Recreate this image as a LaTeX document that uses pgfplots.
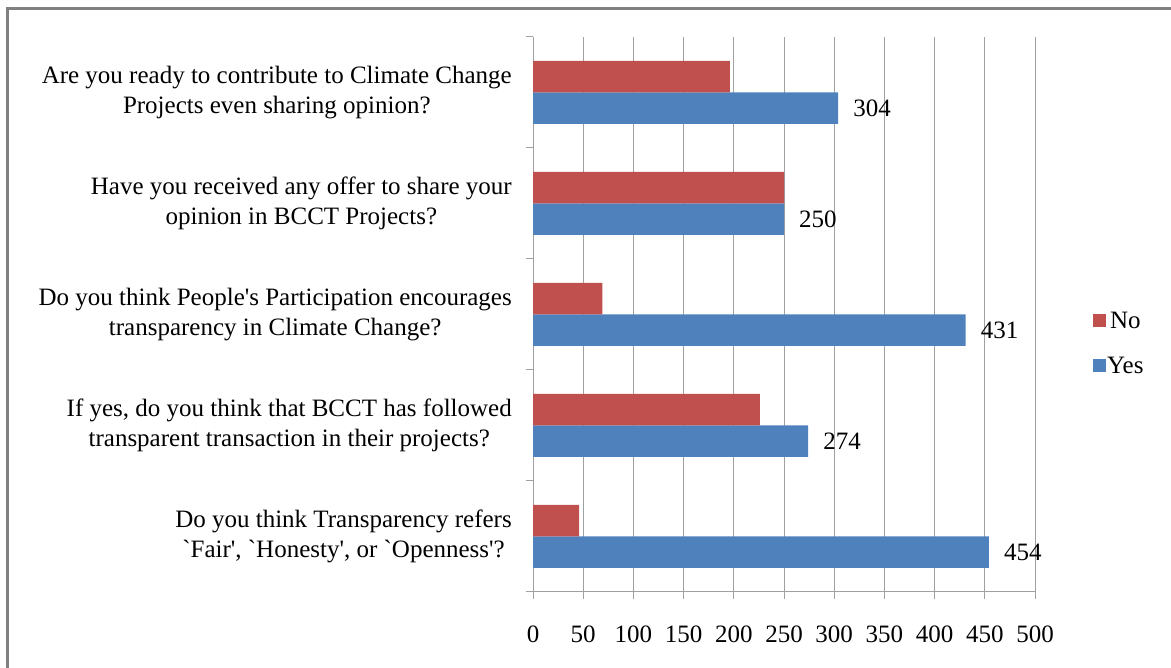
\documentclass[border=0pt]{standalone}
\usepackage{pgfplots}
\pgfplotsset{compat=1.18}
\usepackage{fontspec}
\setmainfont{Liberation Serif}
\definecolor{barred}{RGB}{192,80,77}
\definecolor{barblue}{RGB}{79,129,189}
\definecolor{gridgray}{RGB}{160,160,160}
\definecolor{framegray}{RGB}{128,128,128}
\newcommand{\lbl}{\fontsize{25bp}{30bp}\selectfont}
\begin{document}
\begin{tikzpicture}
\useasboundingbox (0,0) rectangle (1171bp,668bp);
\draw[framegray, line width=2.2bp] (7.5bp,0) -- (7.5bp,659.5bp) -- (1171bp,659.5bp);
\begin{axis}[
  at={(533bp,76bp)}, anchor=south west,
  scale only axis, width=502bp, height=555bp,
  xbar, bar width=31.5bp,
  xmin=0, xmax=500, ymin=-0.5, ymax=4.5,
  axis x line*=bottom, axis y line*=left,
  axis line style={gridgray, line width=1bp},
  xtick={0,50,...,500},
  ytick={-0.5,0.5,1.5,2.5,3.5,4.5},
  yticklabels={},
  extra y ticks={0,1,2,3,4},
  extra y tick labels={
    {Do you think Transparency refers\\\textasciigrave Fair\textquotesingle, \textasciigrave Honesty\textquotesingle, or \textasciigrave Openness\textquotesingle?},
    {If yes, do you think that BCCT has followed\\transparent transaction in their projects?},
    {Do you think People\textquotesingle s Participation encourages\\transparency in Climate Change?},
    {Have you received any offer to share your\\opinion in BCCT Projects?},
    {Are you ready to contribute to Climate Change\\Projects even sharing opinion?}},
  extra y tick style={major tick length=0pt, grid=none},
  tick align=outside,
  major tick length=7bp,
  tick style={gridgray, line width=1bp},
  xmajorgrids,
  grid style={gridgray, line width=1bp},
  /pgf/number format/assume math mode=true,
  xticklabel style={font=\lbl, inner sep=0pt, yshift=-27bp},
  yticklabel style={font=\lbl, align=center, inner sep=0pt, anchor=east, xshift=-21bp},
  legend style={at={(rel axis cs:1.1155,0.445)}, anchor=west, draw=none, fill=none,
    inner sep=0pt, font=\lbl, row sep=25bp,
    nodes={inner sep=0pt, text height=16bp, text depth=4bp},
    /tikz/every odd column/.append style={column sep=1bp}},
  legend image code/.code={\fill[#1] (0bp,-4.5bp) rectangle (13bp,8.5bp);},
  reverse legend,
]
\addplot[fill=barblue, draw=none, bar shift=-15.75bp,
  nodes near coords,
  every node near coord/.append style={font=\lbl, text=black, anchor=west, inner sep=0pt, xshift=15bp}]
  coordinates {(454,0) (274,1) (431,2) (250,3) (304,4)};
\addlegendentry{Yes}
\addplot[fill=barred, draw=none, bar shift=15.75bp]
  coordinates {(46,0) (226,1) (69,2) (250,3) (196,4)};
\addlegendentry{No}
\end{axis}
\end{tikzpicture}
\end{document}
